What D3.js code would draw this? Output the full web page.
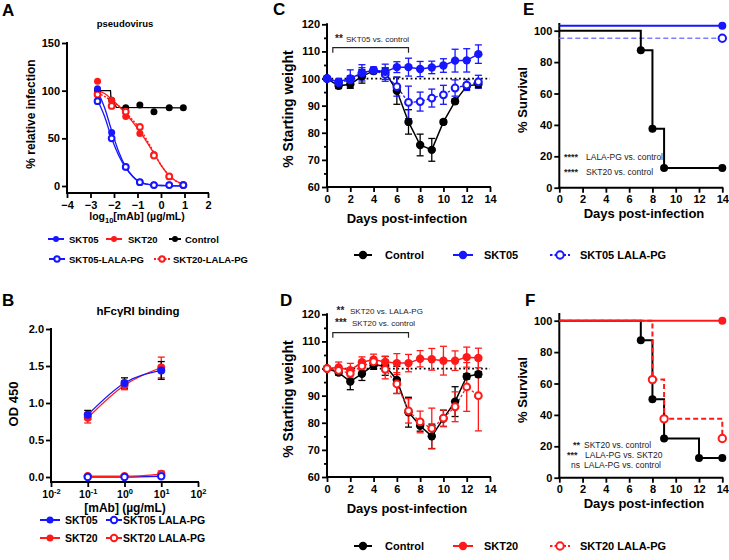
<!DOCTYPE html>
<html><head><meta charset="utf-8">
<script src="https://cdn.jsdelivr.net/npm/d3@7"></script>
<style>body{margin:0;background:#fff} svg{display:block}</style>
</head><body><svg id="c" width="729" height="560"></svg>
<script>
// ---------------- DATA ----------------
// Panel A: pseudovirus neutralisation
const aLogConc = [-2.7, -2.1, -1.5, -0.9, -0.3, 0.35, 0.95];
const aSKT05 = [102, 56, 20, 4, 1, 1, 1];
const aSKT05LALA = [89, 50, 20, 4, 1, 1, 1];
const aSKT20 = [110, 90, 73, 55, 33, 10, 1];
const aSKT20LALA = [96, 84, 78, 62, 32, 10, 1];
const aControl = [100, 90, 82, 85, 78, 82, 82];
const aFitX = [-2.7, -2.4, -2.1, -1.8, -1.5, -1.2, -0.9, -0.6, -0.3, 0, 0.35, 0.65, 1.0];
const aFitSKT05 = [100, 82, 58, 36, 20, 10, 4, 2, 1, 0.5, 0.3, 0.2, 0.2];
const aFitSKT05LALA = [90, 73, 50, 32, 19, 10, 4, 2, 1, 0.5, 0.3, 0.2, 0.2];
const aFitSKT20 = [100, 97, 91, 84, 76, 67, 57, 46, 34, 22, 11, 5, 2];
const aFitSKT20LALA = [97, 94, 89, 84, 77, 69, 60, 48, 35, 22, 11, 5, 2];
const aFitControlX = [-2.7, -2.15, -2.13, -1.9, 1.0];
const aFitControl = [100, 100, 93, 82.5, 82];
const aXTicks = [-4, -3, -2, -1, 0, 1, 2];
const aYTicks = [0, 50, 100, 150];

// Panel B: hFcγRI binding
const bConc = [0.1, 1, 10];
const bSKT05 = [0.84, 1.27, 1.44];
const bSKT05Err = [0.06, 0.07, 0.12];
const bSKT20 = [0.80, 1.24, 1.48];
const bSKT20Err = [0.07, 0.06, 0.14];
const bSKT05LALA = [0.0, 0.0, 0.01];
const bSKT05LALAErr = [0.01, 0.01, 0.02];
const bSKT20LALA = [0.01, 0.01, 0.04];
const bSKT20LALAErr = [0.01, 0.01, 0.04];
const bXTicks = [0.01, 0.1, 1, 10, 100];
const bXTickExp = ["-2", "-1", "0", "1", "2"];
const bYTicks = [0, 0.5, 1.0, 1.5, 2.0];

// Panels C & D: weight
const days = [0, 1, 2, 3, 4, 5, 6, 7, 8, 9, 10, 11, 12, 13];
const cControl = [100, 97.3, 97.9, 100.8, 102.8, 102.3, 95.5, 84.0, 75.5, 73.7, 84.0, 91.6, 97.2, 97.9];
const cControlErr = [0, 1.0, 1.5, 2.5, 1.0, 1.5, 5.0, 4.5, 4.0, 4.2, 0.8, 0.8, 1.2, 1.2];
const cSKT05 = [100, 98.8, 100.0, 102.1, 103.1, 102.5, 104.2, 104.2, 103.5, 104.1, 104.8, 106.6, 106.7, 109.0];
const cSKT05Err = [0, 1.0, 3.2, 3.0, 1.2, 2.8, 2.0, 3.3, 2.8, 2.3, 2.5, 4.2, 4.3, 3.4];
const cSKT05LALA = [100, 98.5, 99.5, 102.0, 103.0, 101.5, 97.0, 91.2, 91.5, 92.8, 94.0, 96.5, 97.6, 98.8];
const cSKT05LALAErr = [0, 1.0, 1.5, 2.0, 1.0, 2.5, 3.5, 6.0, 3.5, 3.3, 3.5, 3.0, 2.0, 2.4];
const dControl = [100, 98.5, 95.2, 98.1, 101.2, 101.0, 95.8, 83.9, 78.9, 75.0, 81.6, 87.8, 97.1, 97.9];
const dControlErr = [0, 1.0, 3.0, 2.5, 1.5, 3.5, 5.0, 5.5, 2.0, 4.5, 3.0, 5.5, 1.0, 1.0];
const dSKT20 = [100, 100.4, 99.4, 102.3, 103.3, 102.4, 102.0, 102.0, 103.6, 103.4, 102.9, 102.9, 104.2, 103.9];
const dSKT20Err = [0, 2.0, 2.5, 2.0, 2.0, 2.0, 3.5, 3.2, 3.0, 4.0, 5.3, 3.6, 3.7, 3.6];
const dSKT20LALA = [100, 99.3, 98.2, 100.9, 102.5, 99.7, 94.3, 84.4, 80.3, 77.9, 81.7, 85.9, 93.2, 90.0];
const dSKT20LALAErr = [0, 1.5, 2.0, 1.5, 1.5, 3.5, 3.5, 4.5, 4.0, 7.5, 3.0, 5.5, 9.0, 13.0];
const wYTicks = [60, 70, 80, 90, 100, 110, 120];
const wYMinor = [65, 75, 85, 95, 105, 115];
const dayTicks = [0, 2, 4, 6, 8, 10, 12, 14];

// Panels E & F: survival
const eControlT = [0, 7, 8, 9, 14];
const eControlS = [100, 87.5, 37.5, 12.5, 12.5];
const eSKT05T = [0, 14];
const eSKT05S = [100, 100];
const eSKT05LALAT = [0, 14];
const eSKT05LALAS = [100, 100];
const fControlT = [0, 7, 8, 9, 12, 14];
const fControlS = [100, 87.5, 50, 25, 12.5, 12.5];
const fSKT20T = [0, 14];
const fSKT20S = [100, 100];
const fSKT20LALAT = [0, 8, 9, 14];
const fSKT20LALAS = [100, 62.5, 37.5, 25];
const sYTicks = [0, 20, 40, 60, 80, 100];

// ---------------- DRAWING ----------------
const svg = d3.select('#c');
svg.append('rect').attr('width', 729).attr('height', 560).attr('fill', '#fff');
const FONT = "'Liberation Sans', Arial, Helvetica, sans-serif";
const BLUE = '#1616ff', RED = '#ff1a1a', LBLUE = '#7d7dff', BLACK = '#000';

function txt(x, y, s, o = {}) {
  return svg.append('text').attr('x', x).attr('y', y).text(s)
    .attr('font-family', FONT).attr('font-size', o.size || 11)
    .attr('font-weight', o.weight || 'bold')
    .attr('text-anchor', o.anchor || 'start').attr('fill', o.fill || '#000');
}
function vlabel(x, y, s, size) {
  return svg.append('text').attr('transform', `translate(${x},${y}) rotate(-90)`)
    .attr('text-anchor', 'middle').attr('font-family', FONT).attr('font-weight', 'bold')
    .attr('font-size', size).text(s);
}
function styleAx(g, size) {
  g.select('.domain').remove();
  g.selectAll('.tick line').attr('stroke', '#000').attr('stroke-width', 1.8);
  g.selectAll('.tick text').attr('font-family', FONT).attr('font-weight', 'bold')
    .attr('font-size', size).attr('fill', '#000');
}
function axisLine(x1, y1, x2, y2) {
  svg.append('line').attr('x1', x1).attr('y1', y1).attr('x2', x2).attr('y2', y2)
    .attr('stroke', '#000').attr('stroke-width', 2).attr('stroke-linecap', 'square');
}
function yAxis(scale, x, ticks, fmt, size, minor) {
  const g = svg.append('g').attr('transform', `translate(${x},0)`)
    .call(d3.axisLeft(scale).tickValues(ticks).tickFormat(fmt).tickSize(5).tickPadding(2));
  styleAx(g, size);
  if (minor) {
    const m = svg.append('g').attr('transform', `translate(${x},0)`)
      .call(d3.axisLeft(scale).tickValues(minor).tickFormat('').tickSize(3));
    styleAx(m, size);
  }
  return g;
}
function xAxis(scale, y, ticks, fmt, size) {
  const g = svg.append('g').attr('transform', `translate(0,${y})`)
    .call(d3.axisBottom(scale).tickValues(ticks).tickFormat(fmt).tickSize(5).tickPadding(3));
  styleAx(g, size);
  return g;
}
function points(xs, ys, xS, yS, color, filled, r) {
  const g = svg.append('g');
  xs.forEach((x, i) => {
    g.append('circle').attr('cx', xS(x)).attr('cy', yS(ys[i])).attr('r', filled ? r : r - 0.8)
      .attr('fill', filled ? color : '#fff').attr('stroke', color).attr('stroke-width', filled ? 0 : 2);
  });
}
function errbars(xs, ys, errs, xS, yS, color, cap) {
  const g = svg.append('g').attr('stroke', color).attr('stroke-width', 1.3).attr('fill', 'none');
  xs.forEach((x, i) => {
    if (!errs[i]) return;
    const cx = xS(x), t = yS(ys[i] + errs[i]), b = yS(ys[i] - errs[i]);
    g.append('line').attr('x1', cx).attr('x2', cx).attr('y1', t).attr('y2', b);
    g.append('line').attr('x1', cx - cap).attr('x2', cx + cap).attr('y1', t).attr('y2', t);
    g.append('line').attr('x1', cx - cap).attr('x2', cx + cap).attr('y1', b).attr('y2', b);
  });
}
function pathLine(xs, ys, xS, yS, color, width, dash, curve, dy = 0) {
  const line = d3.line().x(d => xS(d[0])).y(d => yS(d[1]) + dy).curve(curve || d3.curveLinear);
  svg.append('path').attr('d', line(xs.map((x, i) => [x, ys[i]])))
    .attr('fill', 'none').attr('stroke', color).attr('stroke-width', width)
    .attr('stroke-dasharray', dash || null);
}
function legendMark(x, y, color, filled, dash, half, r) {
  svg.append('line').attr('x1', x - half).attr('x2', x + half).attr('y1', y).attr('y2', y)
    .attr('stroke', color).attr('stroke-width', 2).attr('stroke-dasharray', dash || null);
  svg.append('circle').attr('cx', x).attr('cy', y).attr('r', filled ? r : r - 0.8)
    .attr('fill', filled ? color : '#fff').attr('stroke', color).attr('stroke-width', filled ? 0 : 2);
}

// Panel letters
[['A', 2, 16], ['B', 2, 306], ['C', 273, 15], ['D', 280, 306], ['E', 523, 15], ['F', 525, 306]]
  .forEach(([l, x, y]) => txt(x, y, l, { size: 17 }));

// ======== Panel A ========
{
  const xS = d3.scaleLinear([-4, 2], [67, 208]);
  const yS = d3.scaleLinear([0, 150], [186, 43]);
  axisLine(67, 43, 67, 193); axisLine(67, 193, 208, 193);
  yAxis(yS, 67, aYTicks, d3.format('d'), 11);
  xAxis(xS, 193, aXTicks, d3.format('d'), 11);
  txt(125, 27, 'pseudovirus', { size: 9.5, anchor: 'middle' });
  vlabel(35, 114, '% relative infection', 12);
  const xl = txt(137, 220, 'log', { size: 10.5, anchor: 'middle' });
  xl.append('tspan').attr('font-size', 7.5).attr('dy', 3).text('10');
  xl.append('tspan').attr('dy', -3).text('[mAb] (µg/mL)');

  pathLine(aFitControlX, aFitControl, xS, yS, BLACK, 1.3);
  pathLine(aFitX, aFitSKT20, xS, yS, RED, 1.3, null, d3.curveMonotoneX);
  pathLine(aFitX, aFitSKT20LALA, xS, yS, RED, 1.5, '2,1.5', d3.curveMonotoneX);
  pathLine(aFitX, aFitSKT05, xS, yS, BLUE, 1.3, null, d3.curveMonotoneX);
  pathLine(aFitX, aFitSKT05LALA, xS, yS, BLUE, 1.3, null, d3.curveMonotoneX);
  points(aLogConc, aControl, xS, yS, BLACK, true, 3.5);
  points(aLogConc, aSKT20, xS, yS, RED, true, 3.5);
  points(aLogConc, aSKT20LALA, xS, yS, RED, false, 3.7);
  points(aLogConc, aSKT05, xS, yS, BLUE, true, 3.5);
  points(aLogConc, aSKT05LALA, xS, yS, BLUE, false, 3.7);

  // legend
  legendMark(56, 239, BLUE, true, null, 8, 3); txt(69, 242.5, 'SKT05', { size: 9.5 });
  legendMark(114, 239, RED, true, null, 8, 3); txt(128, 242.5, 'SKT20', { size: 9.5 });
  legendMark(175, 239, BLACK, true, null, 6, 3); txt(185, 242.5, 'Control', { size: 9.5 });
  legendMark(57, 259, BLUE, false, null, 8, 3.5); txt(69, 262.5, 'SKT05-LALA-PG', { size: 9.5 });
  legendMark(162, 259, RED, false, '2,1.5', 8, 3.5); txt(173, 262.5, 'SKT20-LALA-PG', { size: 9.5 });
}

// ======== Panel B ========
{
  const xS = d3.scaleLog([0.01, 100], [51, 198]);
  const yS = d3.scaleLinear([0, 2], [477, 329]);
  axisLine(51, 329, 51, 482); axisLine(51, 482, 198, 482);
  yAxis(yS, 51, bYTicks, d3.format('.1f'), 11);
  const gx = xAxis(xS, 482, bXTicks, () => '', 11);
  gx.selectAll('.tick').each(function (d, i) {
    const t = d3.select(this).append('text').attr('y', 16).attr('text-anchor', 'middle')
      .attr('font-family', FONT).attr('font-weight', 'bold').attr('font-size', 10.5).attr('fill', '#000');
    t.append('tspan').text('10');
    t.append('tspan').attr('dy', -4).attr('font-size', 7.5).text(bXTickExp[i]);
  });
  txt(138, 315, 'hFcγRI binding', { size: 11.5, anchor: 'middle' });
  vlabel(18, 404, 'OD 450', 13);
  txt(125, 512, '[mAb] (µg/mL)', { size: 12, anchor: 'middle' });

  pathLine(bConc, bSKT05LALA, xS, yS, BLUE, 1.3, null, d3.curveMonotoneX);
  pathLine(bConc, bSKT20LALA, xS, yS, RED, 1.3, null, d3.curveMonotoneX);
  pathLine(bConc, bSKT20, xS, yS, RED, 1.3, null, d3.curveMonotoneX);
  pathLine(bConc, bSKT05, xS, yS, BLUE, 1.3, null, d3.curveMonotoneX);
  errbars(bConc, bSKT20LALA, bSKT20LALAErr, xS, yS, RED, 3.5);
  errbars(bConc, bSKT05LALA, bSKT05LALAErr, xS, yS, BLUE, 3.5);
  errbars(bConc, bSKT20, bSKT20Err, xS, yS, RED, 3.5);
  errbars(bConc, bSKT05, bSKT05Err, xS, yS, BLACK, 3.5);
  points(bConc, bSKT20, xS, yS, RED, true, 4);
  points(bConc, bSKT05, xS, yS, BLUE, true, 4);
  points(bConc, bSKT20LALA, xS, yS, RED, false, 4);
  points(bConc, bSKT05LALA, xS, yS, BLUE, false, 4);

  legendMark(50, 520, BLUE, true, null, 10, 3.5); txt(65, 524, 'SKT05', { size: 10.5 });
  legendMark(114, 520, BLUE, false, null, 8, 4); txt(123, 524, 'SKT05 LALA-PG', { size: 10.5 });
  legendMark(50, 538, RED, true, null, 10, 3.5); txt(65, 542, 'SKT20', { size: 10.5 });
  legendMark(114, 538, RED, false, null, 8, 4); txt(123, 542, 'SKT20 LALA-PG', { size: 10.5 });
}

// ======== Panels C & D (weight) ========
function weightPanel(top, series, annot) {
  const xS = d3.scaleLinear([0, 14], [327, 490]);
  const yS = d3.scaleLinear([60, 120], [top + 187, top + 24.3]);
  axisLine(327, top + 24.3, 327, top + 187); axisLine(327, top + 187, 490, top + 187);
  yAxis(yS, 327, wYTicks, d3.format('d'), 11, wYMinor);
  xAxis(xS, top + 187, dayTicks, d3.format('d'), 11);
  vlabel(293, top + 109, '% Starting weight', 14);
  txt(407, top + 223, 'Days post-infection', { size: 13, anchor: 'middle' });
  // dotted reference line at 100 %
  svg.append('line').attr('x1', xS(0)).attr('x2', xS(14)).attr('y1', yS(100)).attr('y2', yS(100))
    .attr('stroke', '#000').attr('stroke-width', 1.8).attr('stroke-dasharray', '1.8,2.6');
  // bracket
  const by = top + annot.bracketY;
  svg.append('path').attr('d', `M${xS(0.5)},${by + 5}V${by}H${xS(7)}V${by + 5}`)
    .attr('fill', 'none').attr('stroke', '#222').attr('stroke-width', 1.2);
  annot.rows.forEach(r => {
    txt(r.sx, top + r.y, r.stars, { size: 10, fill: '#222' });
    txt(r.tx, top + r.y, r.text, { size: 8, weight: 'normal', fill: '#222' });
  });
  series.forEach(s => pathLine(days, s.v, xS, yS, s.color, s.filled ? 1.5 : 1.3, s.dash));
  series.forEach(s => errbars(days, s.v, s.e, xS, yS, s.color, 3.5));
  series.forEach(s => points(days, s.v, xS, yS, s.color, s.filled, 4.2));
}
weightPanel(0, [
  { v: cControl, e: cControlErr, color: BLACK, filled: true },
  { v: cSKT05LALA, e: cSKT05LALAErr, color: BLUE, filled: false, dash: '2.5,2' },
  { v: cSKT05, e: cSKT05Err, color: BLUE, filled: true },
], { bracketY: 47.7, rows: [{ sx: 335, tx: 346, y: 42, stars: '**', text: 'SKT05 vs. control' }] });
weightPanel(290, [
  { v: dControl, e: dControlErr, color: BLACK, filled: true },
  { v: dSKT20, e: dSKT20Err, color: RED, filled: true },
  { v: dSKT20LALA, e: dSKT20LALAErr, color: RED, filled: false, dash: '2.5,2' },
], { bracketY: 42.7, rows: [
  { sx: 336.5, tx: 350, y: 23.5, stars: '**', text: 'SKT20 vs. LALA-PG' },
  { sx: 335, tx: 352, y: 36, stars: '***', text: 'SKT20 vs. control' }] });

// legends C & D
legendMark(363, 255, BLACK, true, null, 9, 4.2); txt(385, 259, 'Control', { size: 11 });
legendMark(463, 255, BLUE, true, null, 10, 4.2); txt(484, 259, 'SKT05', { size: 11 });
legendMark(560, 255, BLUE, false, '2.5,2', 10, 4.5); txt(580, 259, 'SKT05 LALA-PG', { size: 11 });
legendMark(363, 546, BLACK, true, null, 9, 4.2); txt(385, 550, 'Control', { size: 11 });
legendMark(463, 546, RED, true, null, 10, 4.2); txt(484, 550, 'SKT20', { size: 11 });
legendMark(560, 546, RED, false, '2.5,2', 10, 4.5); txt(580, 550, 'SKT20 LALA-PG', { size: 11 });

// ======== Panels E & F (survival) ========
function survAxes(top) {
  const xS = d3.scaleLinear([0, 14], [559.3, 722.3]);
  const yS = d3.scaleLinear([0, 100], [top + 187.7, top + 30.7]);
  axisLine(559.3, top + 24, 559.3, top + 187.7); axisLine(559.3, top + 187.7, 722.3, top + 187.7);
  yAxis(yS, 559.3, sYTicks, d3.format('d'), 11);
  xAxis(xS, top + 187.7, dayTicks, d3.format('d'), 11);
  vlabel(527, top + 100, '% Survival', 13);
  txt(644, top + 218, 'Days post-infection', { size: 13, anchor: 'middle' });
  return [xS, yS];
}
{
  const [xS, yS] = survAxes(0);
  pathLine(eSKT05LALAT, eSKT05LALAS, xS, yS, LBLUE, 1.6, '5,3', d3.curveStepAfter, 7.6);
  pathLine(eSKT05T, eSKT05S, xS, yS, BLUE, 2, null, d3.curveStepAfter, -5);
  pathLine(eControlT, eControlS, xS, yS, BLACK, 2, null, d3.curveStepAfter);
  points(eControlT.slice(1), eControlS.slice(1), xS, yS, BLACK, true, 4);
  points(eSKT05T.slice(1), eSKT05S.slice(1), xS, d => yS(d) - 5, BLUE, true, 4);
  points(eSKT05LALAT.slice(1), eSKT05LALAS.slice(1), xS, d => yS(d) + 7.6, BLUE, false, 4.5);
  txt(564, 160, '****', { size: 9, fill: '#222' });
  txt(586, 160, 'LALA-PG vs. control', { size: 8.5, weight: 'normal', fill: '#222' });
  txt(564, 175, '****', { size: 9, fill: '#222' });
  txt(586, 175, 'SKT20 vs. control', { size: 8.5, weight: 'normal', fill: '#222' });
}
{
  const [xS, yS] = survAxes(290);
  pathLine(fControlT, fControlS, xS, yS, BLACK, 2, null, d3.curveStepAfter);
  pathLine(fSKT20LALAT, fSKT20LALAS, xS, yS, RED, 2, '5,3', d3.curveStepAfter);
  pathLine(fSKT20T, fSKT20S, xS, yS, RED, 2, null, d3.curveStepAfter);
  points(fControlT.slice(1), fControlS.slice(1), xS, yS, BLACK, true, 4);
  points(fSKT20LALAT.slice(1), fSKT20LALAS.slice(1), xS, yS, RED, false, 4.5);
  points(fSKT20T.slice(1), fSKT20S.slice(1), xS, yS, RED, true, 4);
  txt(573, 448, '**', { size: 9, fill: '#222' });
  txt(584, 448, 'SKT20 vs. control', { size: 8.5, weight: 'normal', fill: '#222' });
  txt(567, 457.5, '***', { size: 9, fill: '#222' });
  txt(585, 457.5, 'LALA-PG vs. SKT20', { size: 8.5, weight: 'normal', fill: '#222' });
  txt(571, 468, 'ns', { size: 8.5, weight: 'normal', fill: '#222' });
  txt(584, 468, 'LALA-PG vs. control', { size: 8.5, weight: 'normal', fill: '#222' });
}
</script></body></html>
